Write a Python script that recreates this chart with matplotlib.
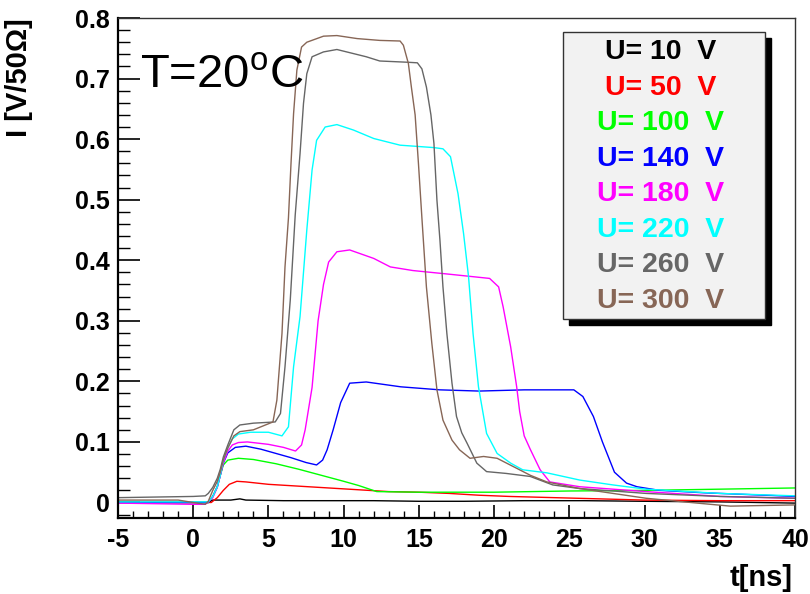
import matplotlib
matplotlib.use("Agg")
import matplotlib.pyplot as plt
from matplotlib.patches import Rectangle
from matplotlib.ticker import MultipleLocator

plt.rcParams["font.family"] = ["Liberation Sans", "DejaVu Sans"]
plt.rcParams["mathtext.fontset"] = "custom"
plt.rcParams["mathtext.rm"] = "Liberation Sans"
plt.rcParams["axes.unicode_minus"] = False

voltages = [10, 50, 100, 140, 180, 220, 260, 300]
colors = ["#000000", "#ff0000", "#00ff00", "#0000ff", "#ff00ff", "#00ffff", "#666666", "#876656"]

t_10 = [-5, 1.0, 1.3, 2.5, 3.1, 3.5, 6, 9, 12, 15, 18, 22, 26, 30, 35, 40]
i_10 = [0.0, 0.0, 0.004, 0.004, 0.006, 0.004, 0.003, 0.003, 0.003, 0.002, 0.002, 0.003, 0.003, 0.002, 0.001, -0.001]

t_50 = [-5, 1.2, 1.6, 2.0, 2.4, 2.9, 3.5, 5, 7, 9, 11, 13, 15, 17, 19, 21, 24, 27, 30, 35, 40]
i_50 = [0.0, 0.0, 0.008, 0.02, 0.03, 0.035, 0.034, 0.030, 0.027, 0.024, 0.021, 0.018, 0.017, 0.015,
        0.012, 0.010, 0.008, 0.006, 0.004, 0.003, 0.003]

t_100 = [-5, 1.0, 1.3, 1.6, 1.8, 2.0, 2.3, 3.0, 4.0, 5.5, 7.0, 8.5, 10, 11, 12.2, 15, 20, 25, 30, 35, 40]
i_100 = [0.0, 0.0, 0.01, 0.026, 0.045, 0.062, 0.070, 0.073, 0.071, 0.064, 0.055, 0.045, 0.035, 0.028,
         0.018, 0.017, 0.017, 0.019, 0.020, 0.022, 0.024]

t_140 = [-5, 1.0, 1.3, 1.6, 1.8, 2.0, 2.3, 2.8, 3.5, 4.5, 5.5, 6.5, 7.5, 8.2, 8.6, 8.9, 9.3, 9.8, 10.4,
         11.5, 13.8, 16.4, 19, 22, 25.3, 25.9, 26.6, 27.2, 27.6, 28.0, 28.8, 29.5, 31, 34, 37, 40]
i_140 = [0.0, 0.0, 0.01, 0.026, 0.045, 0.065, 0.082, 0.091, 0.093, 0.088, 0.081, 0.074, 0.066, 0.062,
         0.07, 0.087, 0.12, 0.165, 0.197, 0.199, 0.191, 0.186, 0.184, 0.186, 0.186, 0.175, 0.142, 0.10,
         0.075, 0.05, 0.032, 0.026, 0.020, 0.016, 0.013, 0.010]

t_180 = [-5, 0, 0.8, 1.3, 1.6, 1.8, 2.0, 2.3, 2.6, 3.0, 3.6, 5.0, 6.0, 6.8, 7.2, 7.44, 7.9, 8.3, 8.66,
         9.0, 9.55, 10.4, 12, 13.1, 14.6, 17, 19.7, 20.3, 20.6, 21.1, 21.5, 21.7, 22.0, 22.4, 23.06,
         23.7, 25.7, 30.1, 35, 40]
i_180 = [-0.001, -0.003, -0.003, 0.008, 0.025, 0.045, 0.065, 0.085, 0.095, 0.099, 0.100, 0.096, 0.091,
         0.085, 0.095, 0.12, 0.19, 0.30, 0.36, 0.397, 0.414, 0.417, 0.403, 0.389, 0.383, 0.377, 0.37,
         0.356, 0.323, 0.257, 0.191, 0.15, 0.11, 0.088, 0.054, 0.034, 0.026, 0.018, 0.010, 0.007]

t_220 = [-5, 1.0, 1.3, 1.6, 1.8, 2.0, 2.3, 2.6, 3.0, 3.8, 5.0, 5.9, 6.33, 6.67, 7.1, 7.55, 7.9, 8.2,
         8.77, 9.55, 10.65, 12, 13.75, 16, 16.6, 17.1, 17.6, 17.97, 18.3, 18.6, 18.96, 19.5, 20.2,
         21.1, 21.9, 23.5, 25.7, 27.9, 30.1, 35, 40]
i_220 = [0.001, 0.001, 0.01, 0.026, 0.045, 0.07, 0.09, 0.105, 0.113, 0.116, 0.116, 0.110, 0.125, 0.224,
         0.307, 0.45, 0.549, 0.598, 0.620, 0.624, 0.615, 0.601, 0.590, 0.586, 0.584, 0.571, 0.51, 0.444,
         0.373, 0.279, 0.191, 0.114, 0.081, 0.065, 0.054, 0.049, 0.037, 0.029, 0.022, 0.015, 0.011]

t_260 = [-5, 0.0, 0.8, 1.0, 1.3, 1.6, 1.8, 2.0, 2.3, 2.7, 3.1, 4.0, 5.45, 5.8, 6.1, 6.45, 6.78, 7.1,
         7.33, 7.55, 7.9, 8.66, 9.55, 10.2, 11.5, 12.4, 14.2, 14.9, 15.2, 15.5, 15.8, 16.0, 16.2, 16.4,
         16.6, 16.86, 17.2, 17.5, 17.85, 18.2, 18.85, 19.5, 20.8, 22.4, 23.9, 25.7, 30.1, 35, 40]
i_260 = [0.008, 0.010, 0.011, 0.015, 0.025, 0.04, 0.055, 0.075, 0.095, 0.12, 0.128, 0.131, 0.133, 0.147,
         0.224, 0.334, 0.475, 0.576, 0.659, 0.708, 0.736, 0.744, 0.748, 0.744, 0.736, 0.729, 0.727,
         0.726, 0.716, 0.686, 0.64, 0.593, 0.499, 0.433, 0.356, 0.279, 0.197, 0.142, 0.115, 0.098, 0.065,
         0.051, 0.048, 0.043, 0.029, 0.023, 0.015, 0.010, 0.007]

t_300 = [-5, -1, 0.0, 0.8, 1.0, 1.3, 1.6, 1.8, 2.0, 2.3, 2.7, 3.1, 4.0, 5.3, 5.56, 5.9, 6.1, 6.33, 6.5,
         6.67, 6.89, 7.2, 7.55, 8.66, 9.55, 10.9, 12.4, 13.75, 13.97, 14.3, 14.5, 14.75, 14.97, 15.2,
         15.5, 15.86, 16.2, 16.6, 17.2, 17.7, 18.4, 19.3, 20.2, 21.3, 22.4, 23.5, 25.7, 27.9, 30.1,
         33.5, 35.7, 40]
i_300 = [0.004, 0.004, 0.0, -0.003, 0.002, 0.02, 0.035, 0.05, 0.07, 0.09, 0.11, 0.117, 0.120, 0.133,
         0.169, 0.279, 0.389, 0.47, 0.56, 0.642, 0.714, 0.752, 0.760, 0.770, 0.771, 0.766, 0.763, 0.762,
         0.755, 0.725, 0.686, 0.64, 0.56, 0.47, 0.356, 0.263, 0.186, 0.136, 0.103, 0.087, 0.073, 0.076,
         0.073, 0.059, 0.045, 0.034, 0.023, 0.015, 0.007, -0.001, -0.006, -0.004]

times = [t_10, t_50, t_100, t_140, t_180, t_220, t_260, t_300]
currents = [i_10, i_50, i_100, i_140, i_180, i_220, i_260, i_300]

fig = plt.figure(figsize=(8.1, 5.94), dpi=100)
ax = fig.add_axes([118 / 810, 76 / 594, 677 / 810, 500 / 594])

for t, i, c in zip(times, currents, colors):
    ax.plot(t, i, color=c, lw=1.0)

ax.set_xlim(-5, 40)
ax.set_ylim(-0.0256, 0.8)
ax.xaxis.set_major_locator(MultipleLocator(5))
ax.xaxis.set_minor_locator(MultipleLocator(1))
ax.yaxis.set_major_locator(MultipleLocator(0.1))
ax.yaxis.set_minor_locator(MultipleLocator(0.02))
ax.yaxis.set_major_formatter(matplotlib.ticker.FuncFormatter(lambda v, p: "0" if abs(v) < 1e-9 else f"{v:.1f}"))

ax.tick_params(axis="x", which="major", direction="in", length=9.5, width=1.2, pad=7,
               labelsize=18, top=False)
ax.tick_params(axis="x", which="minor", direction="in", length=5, width=1.0, top=False)
ax.tick_params(axis="y", which="major", direction="in", length=15.5, width=1.2, pad=6,
               labelsize=18, right=False)
ax.tick_params(axis="y", which="minor", direction="in", length=8.5, width=1.0, right=False)
for lab in ax.get_xticklabels() + ax.get_yticklabels():
    lab.set_fontweight("bold")

for side in ["left", "bottom"]:
    ax.spines[side].set_linewidth(1.6)
for side in ["top", "right"]:
    ax.spines[side].set_linewidth(1.0)
    ax.spines[side].set_color("#333333")

ax.set_xlabel("t[ns]", loc="right", fontsize=21, fontweight="bold")
ax.xaxis.set_label_coords(0.997, -0.092)
ax.set_ylabel("I [V/50\u03a9]", loc="top", fontsize=21, fontweight="bold")
ax.yaxis.set_label_coords(-0.125, 1.0)

ax.text(0.032, 0.862, "T=20$^{\\rm o}$C", transform=ax.transAxes, fontsize=34,
        ha="left", va="baseline")

# legend box with shadow, ROOT style
bx0, by0, bw, bh = 0.657, 0.398, 0.299, 0.574
dx, dy = 6 / 677, 6 / 500
ax.add_patch(Rectangle((bx0 + dx, by0 - dy), bw, bh, transform=ax.transAxes,
                       facecolor="black", edgecolor="black", zorder=5, clip_on=False))
ax.add_patch(Rectangle((bx0, by0), bw, bh, transform=ax.transAxes,
                       facecolor="#f2f2f2", edgecolor="#333333", lw=1.0, zorder=6, clip_on=False))
y_first, y_last = 0.932, 0.434
step = (y_first - y_last) / (len(voltages) - 1)
for k, (u, c) in enumerate(zip(voltages, colors)):
    ax.text(0.802, y_first - k * step, f"U= {u}  V", transform=ax.transAxes, color=c,
            fontsize=20.5, fontweight="bold", ha="center", va="center", zorder=7)

fig.savefig("out.png", dpi=100)
